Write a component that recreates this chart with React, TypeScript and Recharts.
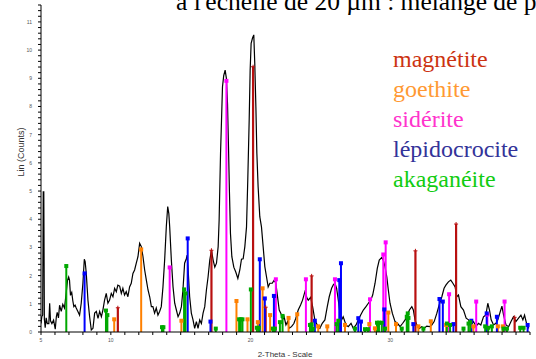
import React from "react";
import {
  ComposedChart,
  Line,
  Scatter,
  XAxis,
  YAxis,
  ReferenceLine,
  Legend,
} from "recharts";

// diffractogram (2-theta, Lin counts)
const pattern: [number, number][] = [
  [5.0, 0.3], [5.06, 0.55], [5.12, 0.6], [5.16, 4.97], [5.2, 4.97], [5.24, 0.45],
  [5.3, 0.15], [5.37, 0.5], [5.45, 0.3], [5.56, 0.3], [5.62, 1.02], [5.68, 0.4],
  [5.78, 0.3], [5.9, 0.42], [6.02, 0.1], [6.1, 0.55], [6.16, 0.7], [6.25, 0.5],
  [6.33, 0.95], [6.45, 0.73], [6.56, 0.98], [6.68, 0.85], [6.8, 1.37], [6.9, 1.84],
  [6.98, 1.95], [7.04, 1.84], [7.11, 1.3], [7.2, 1.4], [7.28, 1.1], [7.35, 0.9],
  [7.44, 0.95], [7.52, 0.85], [7.64, 0.73], [7.76, 0.6], [7.88, 1.02], [8.0, 1.73],
  [8.1, 2.58], [8.16, 2.5], [8.24, 2.08], [8.36, 1.13], [8.48, 0.54], [8.6, 0.07],
  [8.72, 0.13], [8.84, 0.67], [8.96, 0.73], [9.08, 0.48], [9.2, 0.73], [9.32, 0.54],
  [9.43, 0.78], [9.55, 1.13], [9.67, 1.37], [9.79, 1.02], [9.91, 1.13], [10.03, 1.37],
  [10.15, 1.25], [10.27, 1.55], [10.39, 1.43], [10.5, 1.66], [10.63, 1.63], [10.75, 1.37],
  [10.86, 1.55], [10.98, 1.31], [11.1, 1.43], [11.22, 1.25], [11.34, 1.6], [11.46, 1.73],
  [11.58, 2.08], [11.7, 2.2], [11.82, 2.44], [11.94, 2.67], [12.06, 3.15], [12.18, 3.03],
  [12.3, 2.67], [12.42, 2.2], [12.54, 1.84], [12.66, 1.49], [12.78, 1.25], [12.9, 0.9],
  [13.01, 0.9], [13.13, 0.67], [13.25, 0.85], [13.37, 0.6], [13.49, 0.73], [13.61, 0.9],
  [13.73, 1.6], [13.85, 2.55], [13.97, 3.74], [14.07, 4.45], [14.15, 4.2], [14.21, 3.74],
  [14.33, 2.55], [14.45, 1.6], [14.57, 1.02], [14.69, 0.78], [14.81, 0.54], [14.93, 0.67],
  [15.05, 0.9], [15.16, 1.49], [15.28, 2.44], [15.4, 2.6], [15.46, 2.73], [15.52, 2.3],
  [15.64, 1.25], [15.76, 0.67], [15.88, 0.43], [16.0, 0.13], [16.12, 0.37], [16.24, 0.13],
  [16.36, 0.43], [16.48, 0.3], [16.6, 0.67], [16.72, 0.9], [16.84, 1.49], [16.96, 1.96],
  [17.08, 2.55], [17.2, 2.9], [17.32, 2.55], [17.44, 2.3], [17.56, 2.44], [17.68, 3.03],
  [17.75, 3.97], [17.85, 6.33], [17.92, 7.5], [17.99, 8.7], [18.08, 9.1], [18.18, 9.29],
  [18.27, 9.0], [18.35, 8.1], [18.42, 6.57], [18.49, 4.92], [18.56, 3.5], [18.66, 2.67],
  [18.8, 2.3], [18.94, 2.13], [19.09, 1.9], [19.23, 2.2], [19.35, 2.58], [19.47, 2.6],
  [19.59, 3.03], [19.71, 3.73], [19.8, 5.39], [19.9, 7.5], [19.97, 9.29], [20.04, 10.24],
  [20.14, 10.43], [20.23, 10.54], [20.3, 9.53], [20.38, 7.99], [20.45, 6.34], [20.54, 5.15],
  [20.66, 4.09], [20.78, 3.73], [20.9, 3.03], [21.02, 2.32], [21.14, 1.96], [21.26, 1.6],
  [21.38, 1.73], [21.55, 1.73], [21.69, 1.84], [21.81, 1.73], [21.9, 1.37], [22.05, 0.78],
  [22.17, 0.66], [22.29, 0.43], [22.4, 0.54], [22.53, 0.25], [22.65, 0.37], [22.76, 0.13],
  [22.93, 0.19], [23.1, 0.3], [23.24, 0.49], [23.41, 0.78], [23.58, 0.96], [23.72, 1.13],
  [23.89, 1.43], [24.05, 1.19], [24.13, 1.13], [24.3, 1.23], [24.44, 0.9], [24.6, 0.43],
  [24.77, 0.25], [24.96, 0.13], [25.13, 0.31], [25.32, 0.43], [25.49, 0.9], [25.63, 1.25],
  [25.8, 1.55], [25.92, 1.67], [26.04, 1.73], [26.16, 1.55], [26.28, 1.13], [26.4, 0.66],
  [26.52, 0.43], [26.63, 0.54], [26.83, 0.25], [26.99, 0.19], [27.19, 0.31], [27.35, 0.13],
  [27.55, 0.25], [27.71, 0.43], [27.88, 0.6], [28.07, 0.78], [28.26, 0.9], [28.43, 1.02],
  [28.6, 1.13], [28.74, 1.31], [28.91, 1.73], [29.07, 2.26], [29.21, 2.55], [29.39, 2.64],
  [29.5, 2.55], [29.62, 2.32], [29.75, 1.96], [29.86, 1.49], [29.98, 1.02], [30.15, 0.66],
  [30.34, 0.37], [30.51, 0.31], [30.7, 0.19], [30.89, 0.31], [31.06, 0.43], [31.22, 0.6],
  [31.37, 0.78], [31.54, 0.9], [31.65, 0.78], [31.77, 0.43], [31.9, 0.25], [32.08, 0.13],
  [32.25, 0.19], [32.42, 0.13], [32.61, 0.21], [32.8, 0.19], [32.97, 0.25], [33.14, 0.37],
  [33.33, 0.66], [33.5, 0.96], [33.69, 1.25], [33.85, 1.55], [33.99, 1.67], [34.16, 1.78],
  [34.33, 1.84], [34.48, 1.73], [34.64, 1.6], [34.76, 1.25], [34.88, 1.31], [35.05, 0.9],
  [35.24, 0.78], [35.43, 0.49], [35.6, 0.43], [35.79, 0.25], [35.96, 0.37], [36.13, 0.19],
  [36.31, 0.31], [36.48, 0.25], [36.67, 0.54], [36.84, 0.6], [36.98, 1.02], [37.1, 0.78],
  [37.22, 0.43], [37.39, 0.25], [37.56, 0.31], [37.7, 0.43], [37.87, 0.72], [37.99, 0.92],
  [38.11, 0.6], [38.28, 0.25], [38.47, 0.19], [38.64, 0.37], [38.82, 0.54], [38.99, 0.37],
  [39.18, 0.49], [39.35, 0.6], [39.49, 0.43], [39.61, 0.6], [39.78, 0.25], [39.92, 0.13],
];

// reference sticks per phase: [2-theta, intensity]
const magnetite: [number, number][] = [
  [10.5, 0.86], [17.2, 2.9], [20.18, 9.41], [21.08, 0.88], [24.37, 1.99],
  [31.8, 2.88], [34.71, 3.83], [38.9, 0.52],
];
const goethite: [number, number][] = [
  [10.24, 0.45], [12.17, 2.93], [15.05, 0.4], [18.99, 1.1], [19.78, 0.45],
  [20.52, 0.35], [20.86, 1.55], [21.4, 0.6], [22.72, 0.5], [23.34, 0.63],
  [24.84, 0.2], [25.49, 0.2], [26.76, 0.25], [28.5, 0.28], [28.9, 0.13],
  [29.86, 0.69], [30.41, 0.28], [32.01, 0.2], [32.9, 0.38], [34.0, 0.25],
  [35.95, 0.2], [37.7, 0.2], [38.05, 0.2],
];
const siderite: [number, number][] = [
  [14.21, 2.29], [18.27, 8.91], [21.81, 1.87], [23.96, 1.87], [26.04, 1.87],
  [28.55, 1.16], [29.5, 2.75], [29.67, 3.18], [34.21, 1.34], [36.15, 1.08],
  [36.95, 0.62], [38.18, 1.08],
];
const lepidocrocite: [number, number][] = [
  [8.12, 2.08], [15.5, 3.32], [17.13, 0.37], [20.66, 2.58], [21.02, 1.19],
  [21.67, 1.28], [24.6, 0.4], [26.35, 1.84], [26.47, 2.44], [27.71, 0.49],
  [27.9, 0.37], [29.57, 0.8], [31.65, 0.28], [33.52, 1.17], [33.76, 1.08],
  [34.52, 0.28], [35.8, 0.4], [36.9, 0.66], [37.63, 0.54], [39.83, 0.25],
];
const akaganeite: [number, number][] = [
  [6.81, 2.34], [9.65, 0.76], [9.75, 0.6], [13.66, 0.17], [13.76, 0.17],
  [15.24, 1.51], [15.34, 1.37], [17.51, 0.12], [19.18, 0.45], [19.3, 0.45],
  [19.42, 0.45], [20.02, 1.51], [20.45, 0.15], [20.59, 0.15], [21.6, 0.12],
  [21.74, 0.12], [22.1, 0.35], [22.29, 0.57], [24.25, 0.25], [24.37, 0.27],
  [24.46, 0.12], [26.16, 0.28], [26.28, 0.4], [27.47, 0.12], [28.19, 0.1],
  [28.4, 0.1], [29.05, 0.33], [29.19, 0.33], [29.39, 0.33], [29.62, 0.12],
  [30.82, 0.12], [31.18, 0.54], [31.25, 0.66], [31.3, 0.5], [32.37, 0.12],
  [34.05, 0.3], [34.28, 0.25], [35.24, 0.12], [35.6, 0.3], [35.72, 0.35],
  [36.79, 0.2], [37.01, 0.15], [37.27, 0.2], [38.1, 0.12], [38.35, 0.12],
  [39.3, 0.15], [39.54, 0.15],
];

const phaseNames = ["magnétite", "goethite", "sidérite", "lépidocrocite", "akaganéite"];
const legendColors = ["#cc3311", "#ff9933", "#ff33cc", "#333399", "#11cc11"];
const stickColors = ["#b81010", "#ff8000", "#ff00ff", "#0000ff", "#00a800"];
const phases = [magnetite, goethite, siderite, lepidocrocite, akaganeite];

const xTicks = Array.from({ length: 36 }, (_, i) => 5 + i);
const xLabels = [5, 10, 20, 30];
const yTicks = Array.from({ length: 59 }, (_, i) => i / 5);

const patternData = pattern.map(([x, y]) => ({ x, y }));

function XTick({ x, y, payload }: any) {
  if (!xLabels.includes(payload.value)) return <g />;
  return (
    <text x={x} y={y + 5} textAnchor="middle" fontSize={5} fill="#555" fontFamily="Liberation Sans">
      {payload.value}
    </text>
  );
}

function YTick({ x, y, payload }: any) {
  const v = payload.value;
  if (Math.abs(v - Math.round(v)) > 1e-6) return <g />;
  return (
    <text x={x} y={y + 2} textAnchor="end" fontSize={5} fill="#555" fontFamily="Liberation Sans">
      {Math.round(v)}
    </text>
  );
}

function PhaseLegend() {
  return (
    <div style={{ fontFamily: "Liberation Serif", fontSize: 24, lineHeight: "30px" }}>
      {phaseNames.map((n, i) => (
        <div key={n} style={{ color: legendColors[i], whiteSpace: "nowrap" }}>
          {n}
        </div>
      ))}
    </div>
  );
}

function marker(color: string, cross: boolean) {
  return (props: any) => {
    const { cx, cy } = props;
    if (cross) {
      return (
        <g stroke={color} strokeWidth={1}>
          <line x1={cx - 2} x2={cx + 2} y1={cy} y2={cy} />
          <line x1={cx} x2={cx} y1={cy - 2} y2={cy + 2} />
        </g>
      );
    }
    return <rect x={cx - 2} y={cy - 2} width={4} height={4} fill={color} />;
  };
}

export default function App() {
  return (
    <div
      style={{
        position: "absolute",
        left: 0,
        top: 0,
        width: 536,
        height: 359,
        overflow: "hidden",
        background: "#fff",
      }}
    >
      <div
        style={{
          position: "absolute",
          left: 176,
          top: -11,
          fontFamily: "Liberation Serif",
          fontSize: 25.5,
          lineHeight: "25px",
          whiteSpace: "nowrap",
          color: "#000",
        }}
      >
        à l'échelle de 20 µm : mélange de phases
      </div>
      <ComposedChart
        width={536}
        height={359}
        margin={{ top: 5, right: 6, bottom: 7, left: 11 }}
      >
        <XAxis
          dataKey="x"
          type="number"
          domain={[5, 40]}
          ticks={xTicks}
          tick={<XTick />}
          tickSize={3}
          height={20}
          stroke="#000"
          interval={0}
          allowDataOverflow
          label={() => (
            <text x={285} y={357} textAnchor="middle" fontSize={8} fill="#333" fontFamily="Liberation Sans">
              2-Theta - Scale
            </text>
          )}
        />
        <YAxis
          type="number"
          domain={[0, 11.6]}
          ticks={yTicks}
          tick={<YTick />}
          tickSize={3}
          tickMargin={6}
          width={30}
          stroke="#000"
          interval={0}
          allowDataOverflow
          label={() => (
            <text
              x={21}
              y={152}
              transform="rotate(-90 21 152)"
              textAnchor="middle"
              dominantBaseline="central"
              fontSize={9}
              fill="#333"
              fontFamily="Liberation Sans"
            >
              Lin (Counts)
            </text>
          )}
        />
        <Legend
          layout="vertical"
          align="center"
          verticalAlign="middle"
          content={<PhaseLegend />}
          wrapperStyle={{ left: 393, top: 44, width: "auto" }}
        />
        <Line
          data={patternData}
          dataKey="y"
          type="linear"
          stroke="#000"
          strokeWidth={1.2}
          dot={false}
          isAnimationActive={false}
        />
        {phases.map((sticks, p) =>
          sticks.map(([x, y], i) => (
            <ReferenceLine
              key={`s${p}-${i}`}
              segment={[
                { x, y: 0 },
                { x, y },
              ]}
              stroke={stickColors[p]}
              strokeWidth={p === 0 ? 2.2 : 2}
            />
          ))
        )}
        {phases.map((sticks, p) => (
          <Scatter
            key={`m${p}`}
            name={phaseNames[p]}
            data={sticks.map(([x, y]) => ({ x, y }))}
            dataKey="y"
            shape={marker(stickColors[p], p === 0)}
            isAnimationActive={false}
          />
        ))}
      </ComposedChart>
    </div>
  );
}
